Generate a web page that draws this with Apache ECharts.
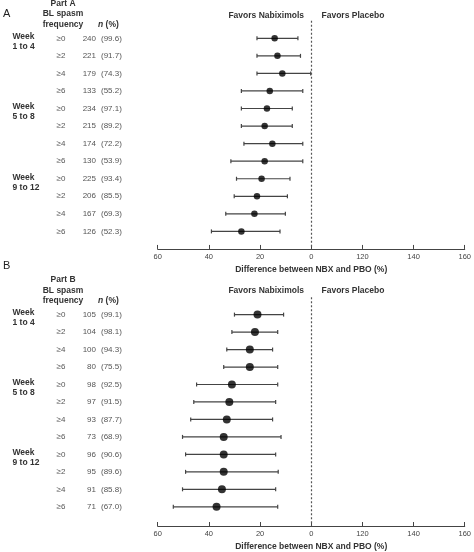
<!DOCTYPE html>
<html><head><meta charset="utf-8">
<script src="https://cdn.jsdelivr.net/npm/echarts@6/dist/echarts.min.js"></script>
<style>html,body{margin:0;padding:0;background:#fff}#c{width:474px;height:552px}</style>
</head><body><div id="c"></div>
<script>
// ---- data ----
const weekLabels = [["Week","1 to 4"],["Week","5 to 8"],["Week","9 to 12"]];
const freqLabels = ["≥0","≥2","≥4","≥6","≥0","≥2","≥4","≥6","≥0","≥2","≥4","≥6"];
const tickLabels = {"60":"60","40":"40","20":"20","0":"0","-20":"120","-40":"140","-60":"160"};

const aN   = [240,221,179,133,234,215,174,130,225,206,167,126];
const aPct = ["99.6","91.7","74.3","55.2","97.1","89.2","72.2","53.9","93.4","85.5","69.3","52.3"];
const aEst = [14.3,13.2,11.3,16.2,17.3,18.2,15.2,18.2,19.4,21.2,22.2,27.3];
const aUpper = [21.2,21.2,21.2,27.3,27.3,27.3,26.3,31.4,29.2,30.1,33.4,39.0];
const aLower = [5.2,4.2,0.2,3.3,7.4,7.4,3.3,3.3,8.3,9.3,10.1,12.2];

const bN   = [105,104,100,80,98,97,93,73,96,95,91,71];
const bPct = ["99.1","98.1","94.3","75.5","92.5","91.5","87.7","68.9","90.6","89.6","85.8","67.0"];
const bEst = [21.0,22.0,24.0,24.0,31.0,32.0,33.0,34.2,34.2,34.2,34.9,37.0];
const bUpper = [30.0,31.0,33.0,34.2,44.8,45.9,47.1,50.3,49.1,49.1,50.3,53.9];
const bLower = [10.8,13.1,15.1,13.1,13.1,13.9,15.1,11.8,13.9,12.9,13.9,13.1];

// ---- chart ----
const FONT = "Liberation Sans, Arial, sans-serif";
const chart = echarts.init(document.getElementById('c'), null, {renderer:'canvas'});

function xAxisDef(gi){
  return {
    gridIndex: gi, type:'value', position:'bottom', min:-60, max:60, interval:20, inverse:true,
    splitLine:{show:false},
    axisLine:{show:true, onZero:false, lineStyle:{color:'#444', width:1}},
    axisTick:{show:true, inside:true, length:4, lineStyle:{color:'#444'}},
    axisLabel:{fontFamily:FONT, fontSize:7.5, color:'#444', margin:4,
      formatter:v=>tickLabels[String(v)] ?? ''},
    name:'Difference between NBX and PBO (%)', nameLocation:'middle', nameGap:16,
    nameTextStyle:{fontFamily:FONT, fontSize:8.5, fontWeight:'bold', color:'#333'}
  };
}
function yAxisDef(gi, maxv){
  return {gridIndex:gi, type:'value', inverse:true, min:-1, max:maxv, show:false, splitLine:{show:false}};
}

function errSeries(gi, est, upper, lower){
  return {
    type:'custom', xAxisIndex:gi, yAxisIndex:gi, clip:false,
    data: est.map((e,i)=>[upper[i], lower[i], i]),
    encode:{x:[0,1], y:2},
    renderItem:(params, api)=>{
      const p1 = api.coord([api.value(0), api.value(2)]);
      const p2 = api.coord([api.value(1), api.value(2)]);
      const st = {stroke:'#444', lineWidth:1.2};
      return {type:'group', children:[
        {type:'line', shape:{x1:p1[0], y1:p1[1], x2:p2[0], y2:p2[1]}, style:st},
        {type:'line', shape:{x1:p1[0], y1:p1[1]-2, x2:p1[0], y2:p1[1]+2}, style:st},
        {type:'line', shape:{x1:p2[0], y1:p2[1]-2, x2:p2[0], y2:p2[1]+2}, style:st}
      ]};
    },
    z:2
  };
}
function dotSeries(gi, est, size){
  return {
    type:'scatter', xAxisIndex:gi, yAxisIndex:gi, symbol:'circle', symbolSize:size,
    itemStyle:{color:'#000'}, data: est.map((e,i)=>[e,i]), z:3,
    markLine:{silent:true, symbol:'none', label:{show:false},
      lineStyle:{color:'#555', type:[2,2], width:1.2}, data:[{xAxis:0}]}
  };
}
function txt(x, y, text, opt){
  return {type:'text', x, y,
    style:{text, font:(opt.bold?'bold ':'')+(opt.size||8)+'px '+FONT,
      fill:opt.color||'#444', align:opt.align||'left', verticalAlign:'middle',
      textAlign:opt.align||'left', textVerticalAlign:'middle'}};
}
function tableSeries(gi, nArr, pctArr){
  return {
    type:'custom', xAxisIndex:gi, yAxisIndex:gi, clip:false, silent:true,
    data: nArr.map((n,i)=>[0,i]),
    encode:{x:0, y:1},
    renderItem:(params, api)=>{
      const i = params.dataIndex;
      const y = api.coord([0, api.value(1)])[1];
      const ch = [
        txt(61, y, freqLabels[i], {size:8, color:'#555', align:'center'}),
        txt(96, y, String(nArr[i]), {size:8, color:'#555', align:'right'}),
        txt(101, y, '(' + pctArr[i] + ')', {size:8, color:'#555', align:'left'})
      ];
      if (i % 4 === 0){
        const w = weekLabels[i/4];
        ch.push(txt(12.5, y-1.5, w[0], {size:8.5, bold:true, color:'#333'}));
        ch.push(txt(12.5, y+8.5, w[1], {size:8.5, bold:true, color:'#333'}));
      }
      return {type:'group', children:ch};
    }
  };
}

function headerGraphics(letter, letterY, partText, row1Y, favY){
  const mk = (x,y,text,bold,size,align,color)=>({type:'text', x, y,
    style:{text, font:(bold?'bold ':'')+size+'px '+FONT, fill:color||'#333',
      align, verticalAlign:'middle', textAlign:align, textVerticalAlign:'middle'}});
  return [
    mk(3, letterY, letter, false, 11, 'left', '#222'),
    mk(63, row1Y-35, partText, true, 8.5, 'center'),
    mk(63, row1Y-24.5, 'BL spasm', true, 8.5, 'center'),
    mk(63, row1Y-14, 'frequency', true, 8.5, 'center'),
    {type:'text', x:98, y:row1Y-14, style:{text:'{i|n} (%)', font:'bold 8.5px '+FONT, fill:'#333',
      align:'left', verticalAlign:'middle', textAlign:'left', textVerticalAlign:'middle',
      rich:{i:{fontStyle:'italic', fontWeight:'bold', fontSize:8.5, fontFamily:FONT, fill:'#333'}}}},
    mk(304, favY, 'Favors Nabiximols', true, 8.5, 'right'),
    mk(321.5, favY, 'Favors Placebo', true, 8.5, 'left')
  ];
}

const option = {
  animation:false,
  backgroundColor:'#fff',
  grid:[
    {left:157.7, right:8.3, top:20.75, height:228.2},
    {left:157.7, right:8.3, top:297.15, height:229.9}
  ],
  xAxis:[xAxisDef(0), xAxisDef(1)],
  yAxis:[yAxisDef(0, 12), yAxisDef(1, 12.1)],
  graphic:[...headerGraphics('A', 14, 'Part A', 38.3, 15.7), ...headerGraphics('B', 266, 'Part B', 314.7, 291)],
  series:[
    errSeries(0, aEst, aUpper, aLower), dotSeries(0, aEst, 6.5), tableSeries(0, aN, aPct),
    errSeries(1, bEst, bUpper, bLower), dotSeries(1, bEst, 8), tableSeries(1, bN, bPct)
  ]
};
chart.setOption(option);
</script>
</body></html>
